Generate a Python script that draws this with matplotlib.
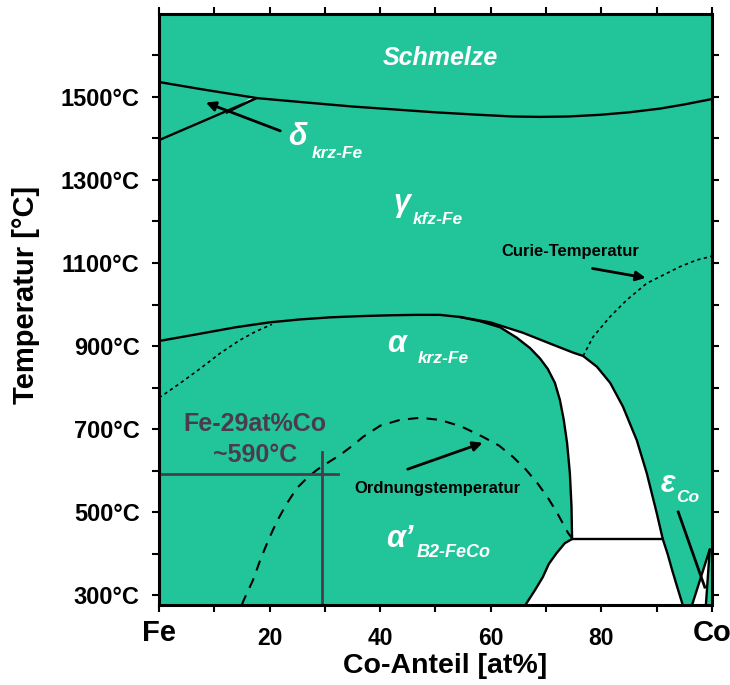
import matplotlib
matplotlib.use("Agg")
import matplotlib.pyplot as plt
import numpy as np

plt.rcParams['font.family'] = ['Liberation Sans', 'DejaVu Sans']

# phase boundaries, Co content [at%] and temperature [°C]
liq_x = [0, 8, 17.9, 25.5, 35, 43.6, 50, 58, 64, 68.9, 74, 79.7, 85, 90.6, 95, 100]
liq_t = [1536, 1518, 1497, 1488, 1477, 1469, 1463, 1457, 1453, 1452, 1453, 1457, 1463, 1472, 1482, 1495]

delta_x = [0, 17.6]
delta_t = [1396, 1497]

ag_x = [0, 3.8, 7.6, 13.8, 20.0, 25.5, 30.9, 36.4, 41.8, 46.3, 50.8, 54.4]
ag_t = [912, 921, 930, 945, 957, 964, 969, 972, 974, 975, 975, 970]

alpha_x = [54.4, 58.0, 61.7, 64.7, 67.1, 68.9, 70.3, 71.6, 72.5, 73.2, 73.8, 74.3, 74.6, 74.7]
alpha_t = [970, 960, 945, 920, 895, 870, 845, 811, 770, 722, 666, 594, 513, 435]

aprime_x = [74.7, 73.4, 71.9, 70.5, 69.4, 68.0, 66.5, 66.3]
aprime_t = [435, 425, 401, 375, 343, 312, 281, 276]

gamma_x = [54.4, 59.9, 65.8, 70.7, 74.9, 76.7, 79.2, 81.6, 83.9, 86.4, 88.2, 90.0, 91.1, 92.0, 92.8, 93.7, 94.6, 94.7]
gamma_t = [970, 957, 932, 906, 884, 876, 850, 811, 754, 673, 594, 498, 435, 398, 360, 320, 281, 276]

eut_x = [74.7, 91.1]
eut_t = [435, 435]

eps_x = [96.4, 99.6, 98.9]
eps_t = [276, 410, 276]

curie_l_x = [0, 4, 7.6, 11, 14.6, 17.5, 20.4]
curie_l_t = [775, 812, 847, 882, 914, 935, 952]
curie_r_x = [76.7, 78.5, 81.6, 84.6, 88.2, 91.2, 94.2, 97.2, 99.6, 100]
curie_r_t = [876, 922, 971, 1011, 1051, 1071, 1091, 1107, 1115, 1117]

order_x = [15.0, 15.2, 17.0, 18.3, 19.8, 21.3, 23.1, 24.9, 26.7, 28.5, 30.3, 32.7, 35.1, 36.9,
           40.0, 43.6, 47.2, 50.8, 54.7, 58.6, 61.5, 64.0, 66.3, 68.4, 70.3, 72.0, 73.3, 74.0, 74.7]
order_t = [276, 284, 336, 384, 433, 477, 520, 557, 581, 601, 617, 637, 661, 681,
           708, 722, 727, 722, 706, 681, 660, 633, 603, 570, 535, 498, 466, 449, 437]

mark_x = 29
mark_t = 592

green = '#22c59a'
dark = '#4b3b4d'

fig = plt.figure(figsize=(7.3, 6.85), dpi=100)
ax = fig.add_axes([0.2178, 0.1168, 0.7575, 0.8628])
ax.set_facecolor(green)
ax.set_xlim(0, 100)
ax.set_ylim(276, 1700)

# white two-phase fields
wx = alpha_x + aprime_x[1:] + gamma_x[::-1]
wt = alpha_t + aprime_t[1:] + gamma_t[::-1]
ax.fill(wx, wt, color='white', lw=0)
ax.fill(eps_x, eps_t, color='white', lw=0)
ax.fill([17.8, 12.2, 16.5], [1498, 1461, 1497], color='white', lw=0)

lk = dict(color='black', lw=1.7, solid_capstyle='round', solid_joinstyle='round')
ax.plot(liq_x, liq_t, **lk)
ax.plot(delta_x, delta_t, **lk)
ax.plot([12.2, 17.8], [1461, 1498], color='black', lw=1.0)
ax.plot(ag_x, ag_t, **lk)
ax.plot(alpha_x, alpha_t, **lk)
ax.plot(aprime_x, aprime_t, **lk)
ax.plot(gamma_x, gamma_t, **lk)
ax.plot(eut_x, eut_t, **lk)
ax.plot(eps_x[:2], eps_t[:2], **lk)
ax.plot(eps_x[1:], eps_t[1:], **lk)

ax.plot(curie_l_x, curie_l_t, color='black', lw=1.2, ls=(0, (2, 2)))
ax.plot(curie_r_x, curie_r_t, color='black', lw=1.2, ls=(0, (2, 2)))
ax.plot(order_x, order_t, color='black', lw=1.5, ls=(0, (5, 4)))

# marker for Fe-29at%Co
ax.plot([0, 32.4], [mark_t, mark_t], color=dark, lw=2)
ax.plot([mark_x + 0.5, mark_x + 0.5], [276, 645], color=dark, lw=2)
ax.text(17.4, 712, 'Fe-29at%Co', color=dark, fontsize=18, fontweight='bold', ha='center', va='center')
ax.text(17.4, 637, '~590°C', color=dark, fontsize=18, fontweight='bold', ha='center', va='center')

# phase labels
wt_kw = dict(color='white', fontweight='bold', style='italic')
ax.text(50.8, 1594, 'Schmelze', fontsize=18, ha='center', va='center', **wt_kw)
ax.text(43.9, 1245, 'γ', fontsize=22, ha='center', va='center', **wt_kw)
ax.text(45.9, 1205, 'kfz-Fe', fontsize=12.5, ha='left', va='center', **wt_kw)
ax.text(43.0, 905, 'α', fontsize=22, ha='center', va='center', **wt_kw)
ax.text(46.8, 870, 'krz-Fe', fontsize=12.5, ha='left', va='center', **wt_kw)
ax.text(43.6, 436, 'α’', fontsize=22, ha='center', va='center', **wt_kw)
ax.text(46.6, 402, 'B2-FeCo', fontsize=13, ha='left', va='center', **wt_kw)
ax.text(25.1, 1404, 'δ', fontsize=22, ha='center', va='center', **wt_kw)
ax.text(27.7, 1365, 'krz-Fe', fontsize=12.5, ha='left', va='center', **wt_kw)
ax.text(92.0, 567, 'ε', fontsize=22, ha='center', va='center', **wt_kw)
ax.text(93.6, 534, 'Co', fontsize=12.5, ha='left', va='center', **wt_kw)

# annotations
ax.text(74.3, 1127, 'Curie-Temperatur', fontsize=12, fontweight='bold', ha='center', va='center')
ax.annotate('', xy=(88.5, 1063), xytext=(77.9, 1088),
            arrowprops=dict(arrowstyle='-|>', color='black', lw=2, mutation_scale=14))
ax.text(50.4, 556, 'Ordnungstemperatur', fontsize=12, fontweight='bold', ha='center', va='center')
ax.annotate('', xy=(59.0, 669), xytext=(44.5, 601),
            arrowprops=dict(arrowstyle='-|>', color='black', lw=2, mutation_scale=14))
ax.annotate('', xy=(8.0, 1489), xytext=(22.4, 1416),
            arrowprops=dict(arrowstyle='-|>', color='black', lw=2, mutation_scale=14))
ax.plot([93.9, 98.7], [500, 319], color='black', lw=2)

# axes
x_ticks = np.arange(0, 101, 10)
x_labels = ['Fe', '', '20', '', '40', '', '60', '', '80', '', 'Co']
y_ticks = np.arange(300, 1601, 100)
y_labels = ['%d°C' % t if t % 200 == 100 else '' for t in y_ticks]
ax.set_xticks(x_ticks)
ax.set_xticklabels(x_labels)
ax.set_yticks(y_ticks)
ax.set_yticklabels(y_labels)
ax.tick_params(which='both', direction='out', length=5, width=1.5,
               top=True, right=True, labelsize=17)
ax.tick_params(axis='y', pad=9)
ax.tick_params(axis='x', pad=5)
for lab in ax.get_xticklabels():
    lab.set_fontweight('bold')
    if lab.get_text() in ('Fe', 'Co'):
        lab.set_fontsize(21)
    else:
        lab.set_fontsize(16.5)
        lab.set_y(-0.014)
for lab in ax.get_yticklabels():
    lab.set_fontweight('bold')
for sp in ax.spines.values():
    sp.set_linewidth(2.2)

ax.set_xlabel('Co-Anteil [at%]', fontsize=20.5, fontweight='bold')
ax.set_ylabel('Temperatur [°C]', fontsize=21, fontweight='bold')
ax.xaxis.set_label_coords(0.517, -0.081)
ax.yaxis.set_label_coords(-0.215, 0.525)

fig.savefig('out.png', dpi=100)
